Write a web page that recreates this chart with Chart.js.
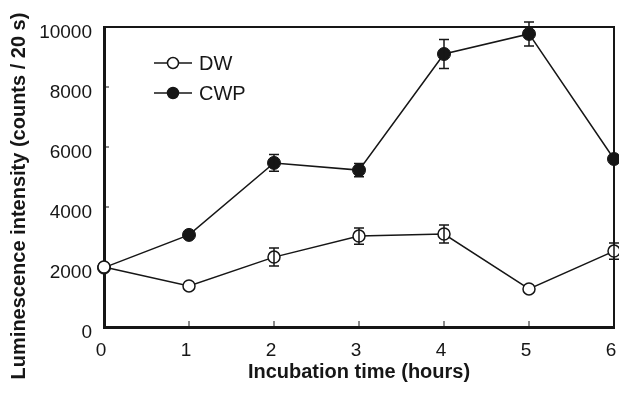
<!DOCTYPE html>
<html>
<head>
<meta charset="utf-8">
<script src="https://cdn.jsdelivr.net/npm/chart.js"></script>
<style>
  html, body { margin: 0; padding: 0; background: #fff; }
  #wrap { width: 619px; height: 393px; position: relative; }
</style>
</head>
<body>
<div id="wrap"><canvas id="myChart"></canvas></div>
<script>
// incubation hours
const hours = [0, 1, 2, 3, 4, 5, 6];
// DW (open circles)
const dwValues = [2000, 1370, 2330, 3030, 3100, 1270, 2530];
const dwErrors = [0, 0, 300, 270, 300, 0, 270];
// CWP (filled circles)
const cwpValues = [1980, 3070, 5470, 5230, 9100, 9770, 5600];
const cwpErrors = [0, 0, 280, 220, 480, 400, 0];
const yTicks = [0, 2000, 4000, 6000, 8000, 10000];

const FONT = '"Liberation Sans", Arial, Helvetica, sans-serif';
const INK = '#161616';

// error bars, inner tick marks, frame, legend, y title
const extras = {
  id: 'extras',
  afterDatasetsDraw(chart) {
    const ctx = chart.ctx;
    const xs = chart.scales.x, ys = chart.scales.y;
    ctx.save();
    ctx.strokeStyle = INK;
    ctx.lineWidth = 1.5;
    [[dwValues, dwErrors], [cwpValues, cwpErrors]].forEach(([vals, errs]) => {
      vals.forEach((v, i) => {
        if (!errs[i]) return;
        const px = xs.getPixelForValue(hours[i]);
        const top = ys.getPixelForValue(v + errs[i]);
        const bot = ys.getPixelForValue(v - errs[i]);
        ctx.beginPath();
        ctx.moveTo(px, top); ctx.lineTo(px, bot);
        ctx.moveTo(px - 5, top); ctx.lineTo(px + 5, top);
        ctx.moveTo(px - 5, bot); ctx.lineTo(px + 5, bot);
        ctx.stroke();
      });
    });
    ctx.restore();
  },
  beforeDatasetsDraw(chart) {
    const ctx = chart.ctx;
    const xs = chart.scales.x, ys = chart.scales.y;
    const a = chart.chartArea;
    ctx.save();
    ctx.strokeStyle = INK;
    // thin top/right frame
    ctx.lineWidth = 2;
    ctx.beginPath();
    ctx.moveTo(a.left, a.top); ctx.lineTo(a.right, a.top); ctx.lineTo(a.right, a.bottom);
    ctx.stroke();
    // inner ticks
    ctx.lineWidth = 1;
    ctx.beginPath();
    yTicks.forEach(t => {
      if (t === 0 || t === 10000) return;
      const py = ys.getPixelForValue(t);
      ctx.moveTo(a.left, py); ctx.lineTo(a.left + 5, py);
    });
    hours.forEach(h => {
      if (h === 0 || h === 6) return;
      const px = xs.getPixelForValue(h);
      ctx.moveTo(px, a.bottom); ctx.lineTo(px, a.bottom - 6);
    });
    ctx.stroke();
    ctx.restore();
  },
  afterDraw(chart) {
    const ctx = chart.ctx;
    ctx.save();
    // legend
    const items = [['DW', '#ffffff', 63], ['CWP', INK, 93]];
    ctx.font = '20px ' + FONT;
    ctx.textBaseline = 'middle';
    items.forEach(([label, fill, y]) => {
      ctx.strokeStyle = INK;
      ctx.lineWidth = 1.5;
      ctx.beginPath();
      ctx.moveTo(154, y); ctx.lineTo(192, y);
      ctx.stroke();
      ctx.beginPath();
      ctx.arc(173, y, 5.5, 0, Math.PI * 2);
      ctx.fillStyle = fill;
      ctx.fill();
      ctx.stroke();
      ctx.fillStyle = INK;
      ctx.fillText(label, 199, y + 1);
    });
    // y title
    ctx.translate(19, 196);
    ctx.rotate(-Math.PI / 2);
    ctx.font = 'bold 20px ' + FONT;
    ctx.textAlign = 'center';
    ctx.textBaseline = 'middle';
    ctx.fillStyle = INK;
    ctx.fillText('Luminescence intensity (counts / 20 s)', 0, 0);
    ctx.restore();
  }
};

const ctx = document.getElementById('myChart').getContext('2d');
new Chart(ctx, {
  type: 'line',
  data: {
    datasets: [
      {
        label: 'DW',
        data: hours.map((h, i) => ({ x: h, y: dwValues[i] })),
        borderColor: INK,
        borderWidth: 1.5,
        pointRadius: 6,
        pointBorderWidth: 1.5,
        pointBackgroundColor: '#ffffff',
        pointBorderColor: INK,
        clip: false,
        order: 1
      },
      {
        label: 'CWP',
        data: hours.map((h, i) => ({ x: h, y: cwpValues[i] })),
        borderColor: INK,
        borderWidth: 1.5,
        pointRadius: 6.5,
        pointBorderWidth: 1,
        pointBackgroundColor: INK,
        pointBorderColor: INK,
        clip: false,
        order: 2
      }
    ]
  },
  options: {
    responsive: true,
    maintainAspectRatio: false,
    animation: false,
    events: [],
    layout: { autoPadding: false, padding: { left: 0, right: 5, top: 27, bottom: 0 } },
    plugins: { legend: { display: false }, tooltip: { enabled: false } },
    scales: {
      x: {
        type: 'linear',
        min: 0,
        max: 6,
        afterFit: s => { s.height = 66; s.paddingRight = 0; s.paddingLeft = 0; },
        afterBuildTicks: s => { s.ticks = hours.map(v => ({ value: v })); },
        grid: { display: false, drawTicks: false },
        border: { display: true, color: INK, width: 3 },
        ticks: {
          color: INK,
          font: { family: FONT, size: 19 },
          padding: 12,
          labelOffset: -3,
          maxRotation: 0,
          callback: v => String(v)
        },
        title: {
          display: true,
          text: 'Incubation time (hours)',
          color: INK,
          font: { family: FONT, size: 20, weight: 'bold' },
          padding: { top: 0, bottom: 9 }
        }
      },
      y: {
        min: 0,
        max: 10000,
        afterFit: s => { s.width = 104; },
        afterBuildTicks: s => { s.ticks = yTicks.map(v => ({ value: v })); },
        grid: { display: false, drawTicks: false },
        border: { display: true, color: INK, width: 3 },
        ticks: {
          color: INK,
          font: { family: FONT, size: 19 },
          padding: 12,
          labelOffset: 6,
          callback: v => String(v)
        }
      }
    }
  },
  plugins: [extras]
});
</script>
</body>
</html>
